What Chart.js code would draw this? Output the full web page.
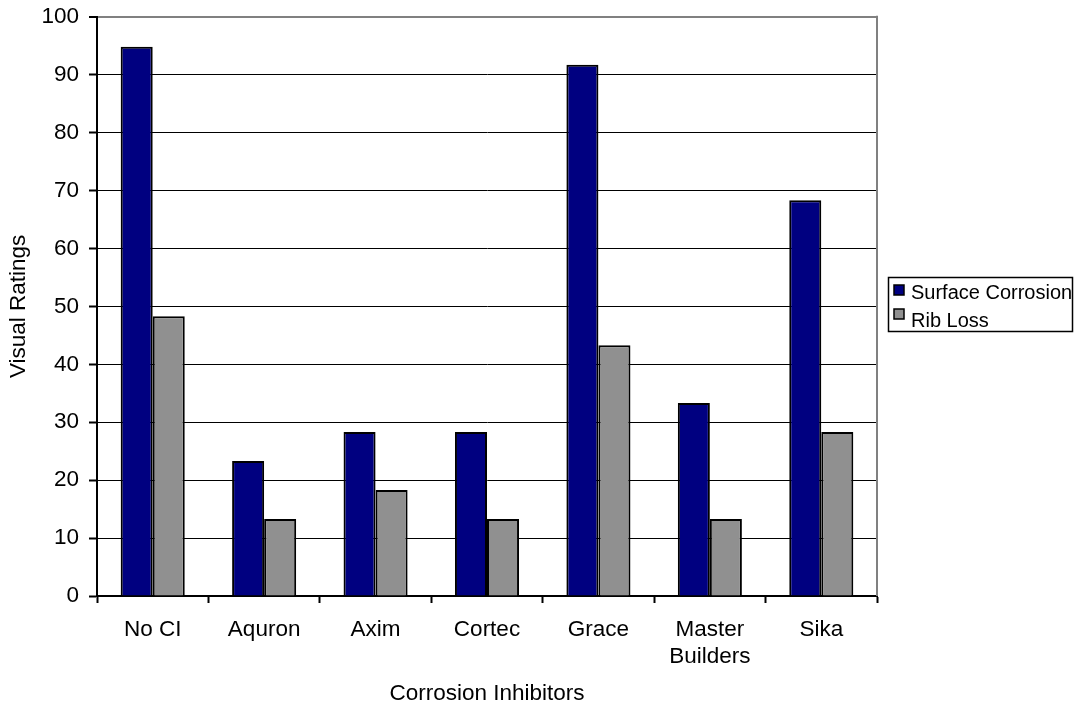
<!DOCTYPE html>
<html>
<head>
<meta charset="utf-8">
<script src="https://cdn.jsdelivr.net/npm/chart.js@4"></script>
<style>
  html, body { margin: 0; padding: 0; background: #fff; }
  #wrap { width: 1075px; height: 706px; }
</style>
</head>
<body>
<div id="wrap"><canvas id="myChart" width="1075" height="706"></canvas></div>
<script>
const categories = ['No CI', 'Aquron', 'Axim', 'Cortec', 'Grace', ['Master', 'Builders'], 'Sika']; /* eixo X */
const surfaceCorrosion = [94.8, 23.3, 28.3, 28.3, 91.7, 33.3, 68.3];
const ribLoss = [48.3, 13.3, 18.3, 13.3, 43.3, 13.3, 28.3];
const yTicks = [0, 10, 20, 30, 40, 50, 60, 70, 80, 90, 100];

const FONT = 'Liberation Sans, Arial, sans-serif';

// legenda com moldura, desenhada à direita do gráfico
const boxLegend = {
    id: 'boxLegend',
    afterDraw(chart) {
        const ctx = chart.ctx;
        const area = chart.chartArea;
        ctx.save();
        // borda cinza à direita do plot
        ctx.strokeStyle = '#808080';
        ctx.lineWidth = 2;
        ctx.beginPath();
        ctx.moveTo(area.right, area.top - 1);
        ctx.lineTo(area.right, area.bottom);
        ctx.stroke();

        ctx.strokeStyle = '#000';
        ctx.lineWidth = 1.5;
        ctx.strokeRect(888.5, 277.5, 184, 54);
        ctx.font = '20px ' + FONT;
        ctx.textBaseline = 'middle';
        ctx.textAlign = 'left';
        const rows = [{ box: 285, text: 293 }, { box: 309, text: 321 }];
        chart.data.datasets.forEach((ds, i) => {
            const r = rows[i];
            ctx.fillStyle = ds.backgroundColor;
            ctx.fillRect(894, r.box, 10, 10);
            ctx.lineWidth = 1.5;
            ctx.strokeRect(894, r.box, 10, 10);
            ctx.fillStyle = '#000';
            ctx.fillText(ds.label, 911, r.text);
        });
        ctx.restore();
    }
};

const data = {
    labels: categories,
    datasets: [{
        label: 'Surface Corrosion',
        backgroundColor: '#000080',
        borderColor: '#000',
        data: surfaceCorrosion,
        borderWidth: 2
    },
    {
        label: 'Rib Loss',
        backgroundColor: '#909090',
        borderColor: '#000',
        data: ribLoss,
        borderWidth: 2
    }]
};

const config = {
    type: 'bar',
    data: data,
    plugins: [boxLegend],
    options: {
        responsive: false,
        animation: false,
        categoryPercentage: 0.575,
        barPercentage: 1,
        layout: { padding: { top: 16, right: 198, bottom: 0, left: 0 } },
        plugins: {
            legend: { display: false },
            tooltip: { enabled: false }
        },
        scales: {
            x: {
                afterFit: (scale) => { scale.height = 110; },
                grid: {
                    offset: true,
                    drawOnChartArea: false,
                    drawTicks: true,
                    tickLength: 7,
                    tickColor: '#000',
                    tickWidth: 2
                },
                border: { color: '#000', width: 2 },
                ticks: {
                    color: '#000',
                    padding: 13,
                    maxRotation: 0,
                    autoSkip: false,
                    font: { family: FONT, size: 22.5, lineHeight: 1.2 }
                },
                title: {
                    display: true,
                    text: 'Corrosion Inhibitors',
                    color: '#000',
                    padding: { top: 0, bottom: 0 },
                    font: { family: FONT, size: 22.5, lineHeight: 1.1 }
                }
            },
            y: {
                min: 0,
                max: 100,
                afterFit: (scale) => { scale.width = 97; },
                afterBuildTicks: (scale) => { scale.ticks = yTicks.map(v => ({ value: v })); },
                grid: {
                    color: (c) => (c.tick && c.tick.value === 100 ? '#808080' : '#000'),
                    lineWidth: (c) => (c.tick && c.tick.value === 100 ? 2 : 1),
                    tickColor: '#000',
                    tickLength: 8,
                    tickWidth: 2
                },
                border: { color: '#000', width: 2 },
                ticks: {
                    color: '#000',
                    padding: 10,
                    font: { family: FONT, size: 22.5, lineHeight: 0.6 }
                },
                title: {
                    display: true,
                    text: 'Visual Ratings',
                    color: '#000',
                    padding: { top: 5.5, bottom: 0 },
                    font: { family: FONT, size: 22.5, lineHeight: 1.2 }
                }
            }
        }
    }
};

const myChart = new Chart(
    document.getElementById('myChart'),
    config
);
</script>
</body>
</html>
